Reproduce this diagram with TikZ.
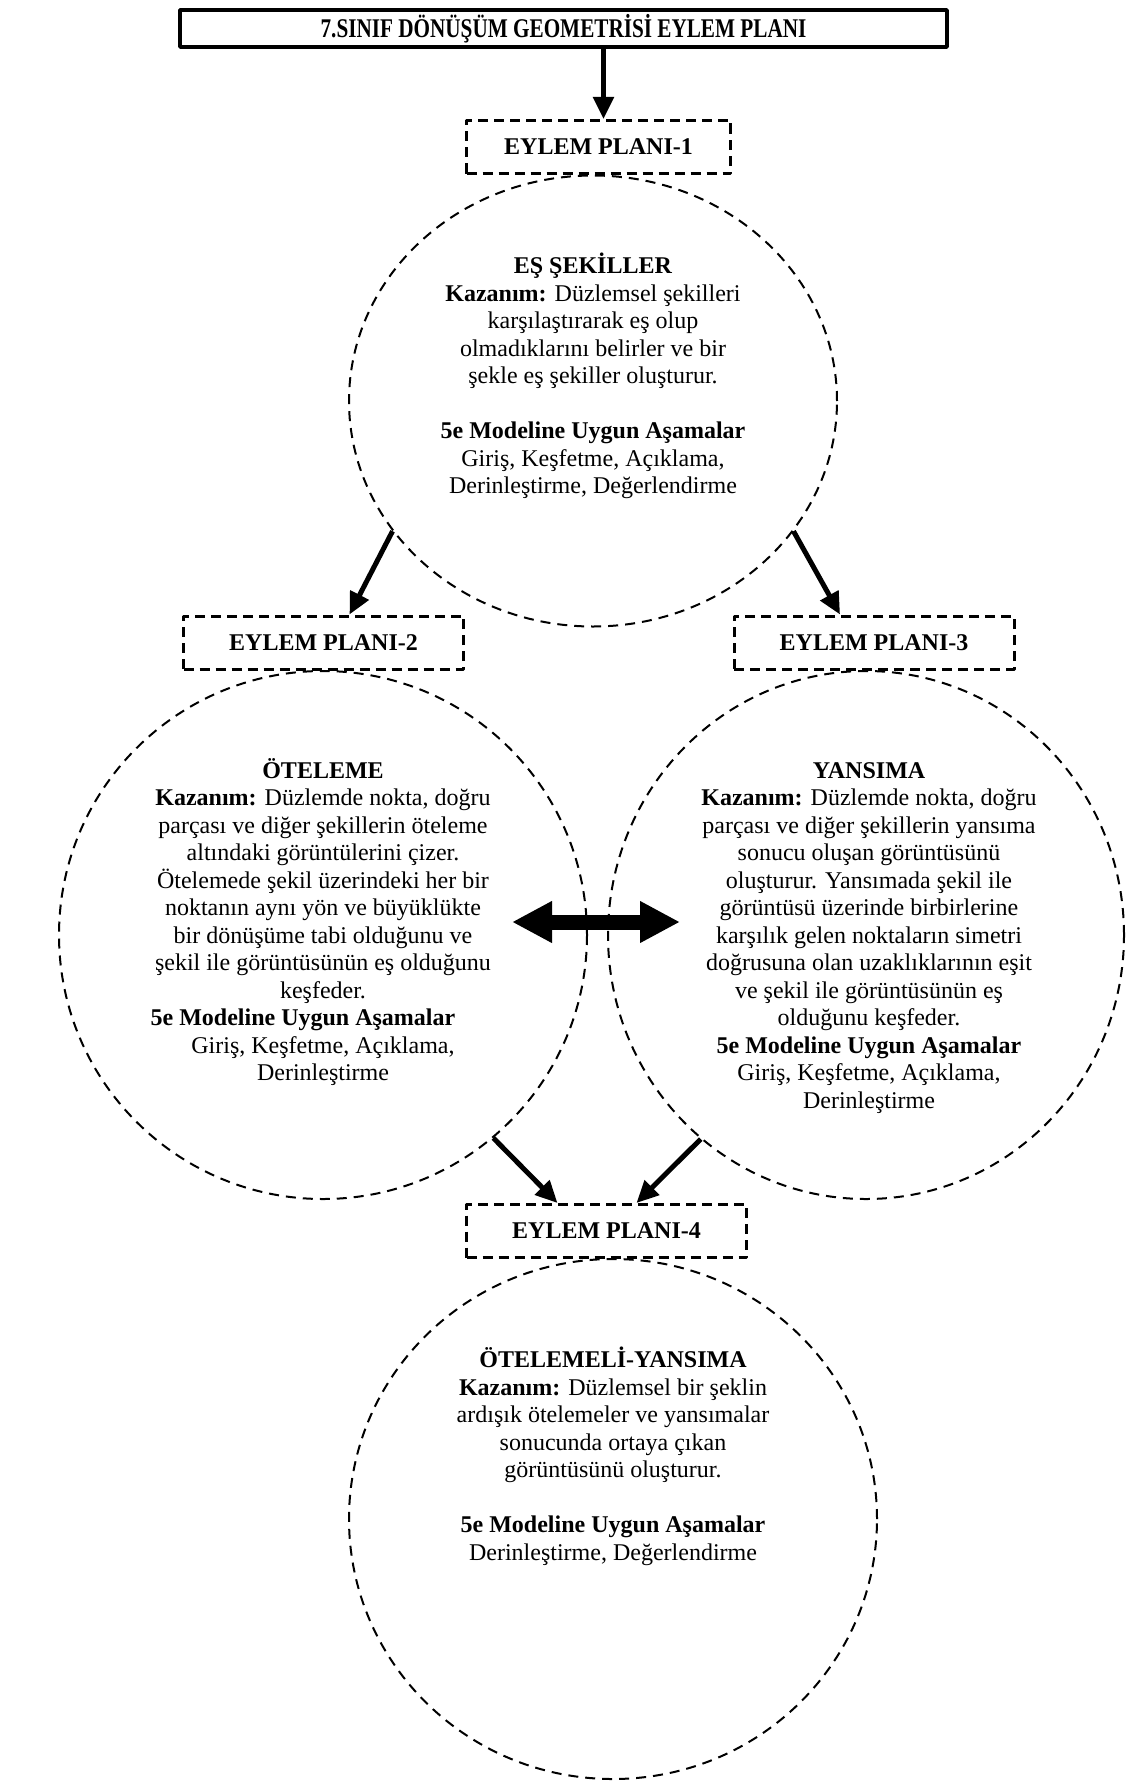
\documentclass[tikz,border=0pt]{standalone}
\usepackage{fontspec}
\usepackage{graphicx}
\setmainfont{Liberation Serif}
\usetikzlibrary{shapes.geometric,arrows.meta}
\begin{document}
\begin{tikzpicture}[x=0.5pt, y=-0.5pt, line join=round, font=\fontsize{12}{13.75}\selectfont]
	\tikzset{title box/.style={draw, line width=2.2pt, minimum width=383.3pt, minimum height=18.3pt, inner sep=0pt, font=\bfseries\fontsize{13.5}{15}\selectfont},
		plan box/.style={draw, dash pattern=on 5pt off 3pt, line width=1.5pt, minimum width=140pt, minimum height=26.5pt, inner sep=0pt, font=\bfseries\fontsize{12}{14}\selectfont},
		plan circle/.style={draw, ellipse, dash pattern=on 5pt off 3.5pt, line width=1pt, inner sep=0pt},
		circle text/.style={align=center, inner sep=0pt, anchor=north},
		flow/.style={-{Triangle[length=11pt, width=10pt]}, line width=2.5pt},
		both/.style={{Triangle[length=20pt, width=19.5pt]}-{Triangle[length=20pt, width=19.5pt]}, line width=7.5pt}}
	\useasboundingbox (0,0) rectangle (1131,1782);
	\node[title box] (title) at (563.5,28.5) {\scalebox{0.785}[1]{7.SINIF DÖNÜŞÜM GEOMETRİSİ EYLEM PLANI}};
	\node[plan box, minimum width=132pt] (ep1) at (598.5,147) {EYLEM PLANI-1};
	\node[plan box] (ep2) at (323.5,642.5) {EYLEM PLANI-2};
	\node[plan box] (ep3) at (874,642.5) {EYLEM PLANI-3};
	\node[plan box] (ep4) at (606.5,1231) {EYLEM PLANI-4};
	\node[plan circle, minimum width=244pt, minimum height=225.5pt] (c1) at (593,401) {};
	\node[plan circle, minimum width=264pt, minimum height=264pt] (c2) at (323,935) {};
	\node[plan circle, minimum width=258pt, minimum height=264pt] (c3) at (866,935) {};
	\node[plan circle, minimum width=264pt, minimum height=260pt] (c4) at (613,1519) {};
	\node[circle text] (t1) at (593,253) {\textbf{EŞ ŞEKİLLER}\\
		\textbf{Kazanım:} Düzlemsel şekilleri\\
		karşılaştırarak eş olup\\
		olmadıklarını belirler ve bir\\
		şekle eş şekiller oluşturur.\\[13.75pt]
		\textbf{5e Modeline Uygun Aşamalar}\\
		Giriş, Keşfetme, Açıklama,\\
		Derinleştirme, Değerlendirme};
	\node[circle text] (t2) at (323,758) {\textbf{ÖTELEME}\\
		\textbf{Kazanım:} Düzlemde nokta, doğru\\
		parçası ve diğer şekillerin öteleme\\
		altındaki görüntülerini çizer.\\
		Ötelemede şekil üzerindeki her bir\\
		noktanın aynı yön ve büyüklükte\\
		bir dönüşüme tabi olduğunu ve\\
		şekil ile görüntüsünün eş olduğunu\\
		keşfeder.\\
		\textbf{5e Modeline Uygun Aşamalar}\rule{20pt}{0pt}\\
		Giriş, Keşfetme, Açıklama,\\
		Derinleştirme};
	\node[circle text] (t3) at (869,762) {\textbf{YANSIMA}\\
		\textbf{Kazanım:} Düzlemde nokta, doğru\\
		parçası ve diğer şekillerin yansıma\\
		sonucu oluşan görüntüsünü\\
		oluşturur. Yansımada şekil ile\\
		görüntüsü üzerinde birbirlerine\\
		karşılık gelen noktaların simetri\\
		doğrusuna olan uzaklıklarının eşit\\
		ve şekil ile görüntüsünün eş\\
		olduğunu keşfeder.\\
		\textbf{5e Modeline Uygun Aşamalar}\\
		Giriş, Keşfetme, Açıklama,\\
		Derinleştirme};
	\node[circle text] (t4) at (613,1347) {\textbf{ÖTELEMELİ-YANSIMA}\\
		\textbf{Kazanım:} Düzlemsel bir şeklin\\
		ardışık ötelemeler ve yansımalar\\
		sonucunda ortaya çıkan\\
		görüntüsünü oluşturur.\\[13.75pt]
		\textbf{5e Modeline Uygun Aşamalar}\\
		Derinleştirme, Değerlendirme};
	\coordinate (al) at (512,922);
	\coordinate (ar) at (680,922);
	\draw[flow] ([xshift=2.5pt]ep1.north |- title.south) -- ([xshift=2.5pt]ep1.north);
	\draw[flow] (c1.213) -- ([xshift=13pt]ep2.north);
	\draw[flow] (c1.327) -- ([xshift=-17pt]ep3.north);
	\draw[flow] (c2.310) -- ([xshift=-24.5pt]ep4.north);
	\draw[flow] (c3.231) -- ([xshift=15pt]ep4.north);
	\draw[both] (al) -- (ar);
\end{tikzpicture}
\end{document}
